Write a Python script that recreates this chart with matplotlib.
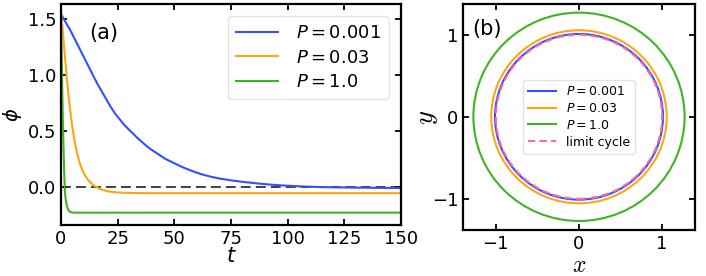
import matplotlib
matplotlib.use("Agg")
import matplotlib.pyplot as plt
from matplotlib.patches import Circle
from matplotlib.lines import Line2D

# ---------------- data ----------------
t_blue = [0, 2, 4, 6, 8, 10, 12, 14, 16, 18, 20, 22, 24, 26, 28, 30, 32, 34, 36, 38, 40,
          43, 46, 50, 54, 58, 62, 66, 70, 75, 80, 85, 90, 95, 100, 105, 110, 115, 120,
          130, 140, 150]
phi_blue = [1.54, 1.47, 1.40, 1.32, 1.24, 1.16, 1.08, 1.00, 0.92, 0.85, 0.78, 0.71, 0.65,
            0.60, 0.55, 0.51, 0.47, 0.43, 0.395, 0.36, 0.33, 0.29, 0.25, 0.21, 0.172,
            0.14, 0.112, 0.091, 0.074, 0.058, 0.045, 0.034, 0.024, 0.016, 0.010, 0.005,
            0.001, -0.002, -0.004, -0.007, -0.009, -0.010]

t_orange = [0, 0.5, 1, 1.5, 2, 2.5, 3, 3.5, 4, 4.5, 5, 5.5, 6, 6.5, 7, 7.5, 8, 9, 10, 11,
            12, 13, 14, 15, 16, 17, 18, 20, 22, 25, 28, 32, 40, 60, 100, 150]
phi_orange = [1.55, 1.45, 1.34, 1.22, 1.10, 0.98, 0.88, 0.78, 0.69, 0.61, 0.53, 0.47,
              0.41, 0.36, 0.31, 0.27, 0.23, 0.17, 0.125, 0.09, 0.06, 0.038, 0.02, 0.006,
              -0.006, -0.016, -0.024, -0.036, -0.044, -0.050, -0.053, -0.055, -0.056,
              -0.056, -0.056, -0.056]

t_green = [0, 0.2, 0.4, 0.6, 0.8, 1.0, 1.2, 1.4, 1.6, 1.8, 2.0, 2.3, 2.6, 3.0, 3.5, 4.0,
           4.5, 5.0, 6.0, 8.0, 20, 60, 150]
phi_green = [1.55, 1.30, 1.05, 0.82, 0.62, 0.44, 0.28, 0.14, 0.02, -0.06, -0.10, -0.14,
             -0.17, -0.195, -0.212, -0.222, -0.227, -0.229, -0.230, -0.230, -0.230,
             -0.230, -0.230]

labels = [r"$P=0.001$", r"$P=0.03$", r"$P=1.0$"]
colors = ["#3150ff", "#ffa514", "#3db522"]

radii = [1.01, 1.055, 1.27]
limit_cycle_radius = 1.0

xticks_a = [0, 25, 50, 75, 100, 125, 150]
yticks_a = [0.0, 0.5, 1.0, 1.5]
ticks_b = [-1, 0, 1]

# ---------------- figure ----------------
fig = plt.figure(figsize=(7.06, 2.76), dpi=100)
ax1 = fig.add_axes([0.0864, 0.1848, 0.4816, 0.8007])
ax2 = fig.add_axes([0.6558, 0.1667, 0.3286, 0.8188])

lw = 1.5
for t, p, c, l in zip([t_blue, t_orange, t_green], [phi_blue, phi_orange, phi_green],
                      colors, labels):
    ax1.plot(t, p, color=c, lw=lw, label=l)
ax1.axhline(0.0, color="#333333", lw=1.3, ls=(0, (5.5, 2.8)), zorder=1)

ax1.set_xlim(0, 150)
ax1.set_ylim(-0.34, 1.63)
ax1.set_xticks(xticks_a)
ax1.set_yticks(yticks_a)
ax1.set_xlabel(r"$t$", fontsize=15, labelpad=-1)
ax1.set_ylabel(r"$\phi$", fontsize=14)
ax1.yaxis.set_label_coords(-0.11, 0.5)
ax1.text(0.126, 0.869, "(a)", transform=ax1.transAxes, fontsize=15,
         ha="center", va="center")
leg1 = ax1.legend(loc="upper right", fontsize=13, handlelength=2.3,
                  borderpad=0.45, labelspacing=0.35, handletextpad=1.0,
                  bbox_to_anchor=(0.99, 0.985))
leg1.get_frame().set_edgecolor("#dddddd")

# panel (b)
for r, c in zip(radii, colors):
    ax2.add_patch(Circle((0, 0), r, fill=False, edgecolor=c, lw=lw))
ax2.add_patch(Circle((0, 0), limit_cycle_radius, fill=False, edgecolor="#ff6a9a",
                     lw=lw, ls=(0, (3.5, 2))))
ax2.set_xlim(-1.395, 1.395)
ax2.set_ylim(-1.38, 1.375)
ax2.set_xticks(ticks_b)
ax2.set_yticks(ticks_b)
ax2.set_xlabel(r"$x$", fontsize=17, math_fontfamily="cm", labelpad=0)
ax2.set_ylabel(r"$y$", fontsize=19, math_fontfamily="cm")
ax2.yaxis.set_label_coords(-0.10, 0.5)
ax2.text(0.102, 0.89, "(b)", transform=ax2.transAxes, fontsize=15,
         ha="center", va="center")
handles = [Line2D([], [], color=c, lw=lw) for c in colors]
handles.append(Line2D([], [], color="#ff6a9a", lw=lw, ls=(0, (3.5, 2))))
leg2 = ax2.legend(handles, labels + ["limit cycle"], loc="center", fontsize=9,
                  handlelength=2.2, labelspacing=0.3, borderpad=0.4,
                  handletextpad=0.8)
leg2.get_frame().set_edgecolor("#dddddd")

for ax in (ax1, ax2):
    ax.tick_params(direction="in", top=True, right=True, labelsize=13,
                   length=4, width=1.3)
    for s in ax.spines.values():
        s.set_linewidth(1.6)

fig.savefig("out.png", dpi=100)
